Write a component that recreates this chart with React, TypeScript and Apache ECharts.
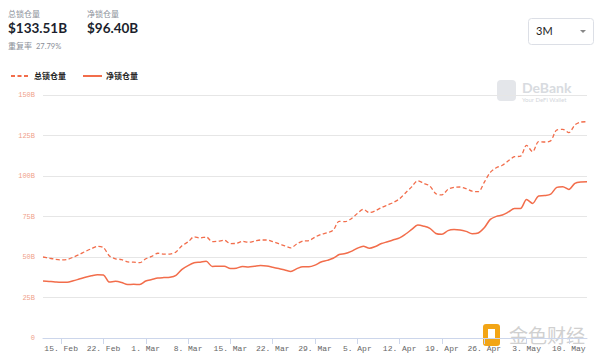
import React, { useEffect, useRef } from "react";
import * as echarts from "echarts";

const startDate = Date.UTC(2021, 1, 12);
const monthNames = ["Jan", "Feb", "Mar", "Apr", "May", "Jun"];
const dayCount = 91;
const dates: string[] = Array.from({ length: dayCount }, (_, i) => {
  const d = new Date(startDate + i * 86400000);
  return `${d.getUTCDate()}. ${monthNames[d.getUTCMonth()]}`;
});

const totalLocked: number[] = [
  50.0, 49.3, 48.6, 48.2, 48.5, 49.9, 51.5, 53.4, 55.1, 56.6,
  55.8, 50.6, 48.9, 48.4, 47.0, 46.8, 46.5, 48.9, 50.4, 52.3,
  51.8, 51.8, 53.1, 57.0, 59.3, 62.4, 61.7, 62.4, 59.5, 59.8,
  60.3, 58.3, 58.4, 59.7, 59.1, 59.8, 60.5, 60.5, 59.5, 58.2,
  56.9, 55.6, 58.1, 59.8, 60.1, 62.3, 64.0, 64.9, 66.5, 72.0,
  71.8, 73.6, 76.8, 79.4, 77.4, 78.6, 80.5, 82.1, 83.7, 86.0,
  89.7, 93.3, 97.1, 95.5, 93.8, 89.1, 88.3, 91.7, 93.0, 93.2,
  92.2, 90.6, 90.3, 96.1, 102.2, 105.1, 106.6, 109.4, 111.9, 112.2,
  118.9, 115.0, 121.2, 121.0, 121.8, 128.4, 128.8, 126.8, 131.5, 133.3,
  133.51,
];

const netLocked: number[] = [
  35.2, 34.9, 34.6, 34.4, 34.4, 35.3, 36.4, 37.5, 38.4, 39.1,
  38.9, 34.5, 35.0, 34.3, 33.0, 33.2, 33.0, 35.2, 36.1, 37.0,
  37.3, 37.5, 38.7, 42.4, 44.7, 46.4, 46.8, 47.3, 44.2, 44.3,
  44.3, 42.9, 43.1, 44.2, 43.8, 44.3, 44.7, 44.4, 43.7, 42.9,
  42.0, 41.1, 42.8, 44.0, 44.0, 45.0, 46.9, 47.9, 49.2, 51.5,
  52.1, 53.5, 55.4, 56.6, 55.4, 56.5, 58.3, 59.4, 60.6, 61.8,
  64.2, 67.0, 69.7, 69.0, 67.7, 64.5, 64.0, 66.3, 66.9, 66.7,
  65.8, 64.4, 64.8, 68.0, 73.2, 75.1, 75.9, 77.8, 80.0, 80.0,
  85.5, 83.1, 87.7, 87.9, 88.8, 93.0, 93.4, 91.7, 95.5, 96.3,
  96.40,
];

const seriesNames = ["总锁仓量", "净锁仓量"];
const headerTotal = "$133.51B";
const headerNet = "$96.40B";
const overlapLabel = "重复率";
const overlapValue = "27.79%";
const rangeLabel = "3M";

const LINE_COLOR = "#f26d4b";
const CJK = "'Noto Sans CJK SC', sans-serif";
const NUM = "Lato, 'Noto Sans', sans-serif";

export default function App() {
  const ref = useRef<HTMLDivElement>(null);
  useEffect(() => {
    if (!ref.current) return;
    const chart = echarts.init(ref.current, null, { renderer: "svg" });
    const weekly = (index: number) => (index - 3) % 7 === 0;
    chart.setOption({
      animation: false,
      backgroundColor: "#ffffff",
      grid: { left: 43, right: 13, top: 95, bottom: 23 },
      legend: {
        left: 5,
        top: 67,
        itemWidth: 19,
        itemHeight: 8,
        itemGap: 16,
        itemStyle: { opacity: 0 },
        textStyle: { fontSize: 8, fontWeight: "bold", color: "#222", fontFamily: CJK, padding: [0, 0, 0, -1] },
        data: seriesNames,
      },
      xAxis: {
        type: "category",
        data: dates,
        boundaryGap: false,
        axisLine: { lineStyle: { color: "#ccd6eb" } },
        axisTick: { interval: weekly, length: 6, lineStyle: { color: "#ccd6eb" } },
        axisLabel: {
          interval: weekly,
          fontSize: 8,
          color: "#666",
          fontFamily: "'Liberation Mono', monospace",
          margin: 6,
        },
        splitLine: { show: false },
      },
      yAxis: {
        type: "value",
        min: 0,
        max: 150,
        interval: 25,
        axisLine: { show: false },
        axisTick: { show: false },
        axisLabel: {
          fontSize: 7,
          color: "#ef9f8a",
          fontFamily: "'Liberation Mono', monospace",
          margin: 8,
          formatter: (v: number) => (v === 0 ? "0" : `${v}B`),
        },
        splitLine: { lineStyle: { color: "#e6e6e6" } },
      },
      series: [
        {
          name: seriesNames[0],
          type: "line",
          data: totalLocked,
          smooth: 0.3,
          symbol: "none",
          lineStyle: { color: LINE_COLOR, width: 1.3, type: [4, 2.5] },
          itemStyle: { color: LINE_COLOR },
        },
        {
          name: seriesNames[1],
          type: "line",
          data: netLocked,
          smooth: 0.3,
          symbol: "none",
          lineStyle: { color: LINE_COLOR, width: 1.5 },
          itemStyle: { color: LINE_COLOR },
        },
      ],
      graphic: [
        { type: "text", left: 8, top: 9, style: { text: seriesNames[0], fontSize: 8, fill: "#8a8f99", fontFamily: CJK } },
        { type: "text", left: 8, top: 21, style: { text: headerTotal, fontSize: 13.5, fontWeight: "bold", fill: "#1c1f2e", fontFamily: NUM } },
        { type: "text", left: 87, top: 9, style: { text: seriesNames[1], fontSize: 8, fill: "#8a8f99", fontFamily: CJK } },
        { type: "text", left: 87, top: 21, style: { text: headerNet, fontSize: 13.5, fontWeight: "bold", fill: "#1c1f2e", fontFamily: NUM } },
        { type: "text", left: 8, top: 41, style: { text: overlapLabel, fontSize: 8, fill: "#8a8f99", fontFamily: CJK } },
        { type: "text", left: 36, top: 42, style: { text: overlapValue, fontSize: 7.5, fill: "#8a8f99", fontFamily: NUM } },
        {
          type: "rect",
          shape: { x: 528.5, y: 18.5, width: 65, height: 26, r: 3 },
          style: { fill: "#fff", stroke: "#dcdfe6", lineWidth: 1 },
        },
        { type: "text", left: 536, top: 25, style: { text: rangeLabel, fontSize: 11, fill: "#222", fontFamily: NUM } },
        {
          type: "polygon",
          shape: { points: [[580, 30], [586, 30], [583, 33]] },
          style: { fill: "#888" },
        },
        {
          type: "group",
          left: 497,
          top: 80,
          children: [
            { type: "rect", shape: { x: 0, y: 0, width: 19, height: 21, r: 4 }, style: { fill: "#e4e6ea" } },
            { type: "text", x: 25, y: 0, style: { text: "DeBank", fontSize: 14, fontWeight: "bold", fill: "#d8dbe0", fontFamily: NUM } },
            { type: "text", x: 25, y: 16, style: { text: "Your DeFi Wallet", fontSize: 6, fill: "#d3d6db", fontFamily: NUM } },
          ],
        },
        {
          type: "group",
          left: 483,
          top: 324,
          children: [
            { type: "rect", shape: { x: 0, y: 0, width: 17, height: 22, r: 3 }, style: { fill: "#f2a516" } },
            { type: "rect", shape: { x: 5, y: 5, width: 7, height: 10 }, style: { fill: "#ffffff" } },
            { type: "text", x: 26, y: 1, style: { text: "金色财经", fontSize: 19, fill: "#d0d0d0", fontFamily: CJK } },
          ],
        },
      ],
    });
    return () => chart.dispose();
  }, []);
  return (
    <div
      ref={ref}
      style={{ position: "fixed", left: 0, top: 0, width: 600, height: 361 }}
    />
  );
}
